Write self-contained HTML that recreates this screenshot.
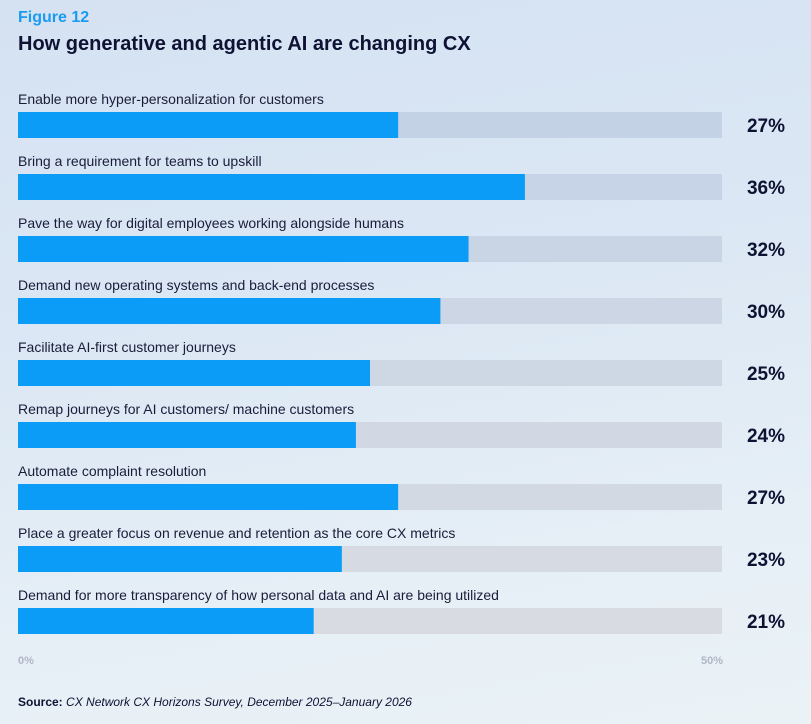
<!DOCTYPE html>
<html><head><meta charset="utf-8"><style>
html,body{margin:0;padding:0}
body{width:811px;height:724px;overflow:hidden;position:relative;font-family:"Liberation Sans",sans-serif;background:linear-gradient(170deg,#d5e2f2 0%,#dbe7f4 40%,#e6eff6 75%,#eaf2f6 100%);}
.t{position:absolute;white-space:nowrap}
</style></head><body>
<div class="t" style="left:18px;top:9px;font-size:16px;font-weight:bold;color:#1a9bf0">Figure 12</div>
<div class="t" style="left:18px;top:33px;font-size:20px;font-weight:bold;color:#0e1233">How generative and agentic AI are changing CX</div>
<svg id="chart" width="811" height="724" style="position:absolute;left:0;top:0"></svg>
<div class="t" style="left:18px;top:695px;font-size:12px;color:#0e1233"><b>Source:</b> <i>CX Network CX Horizons Survey, December 2025–January 2026</i></div>
<script>
const categories=["Enable more hyper-personalization for customers","Bring a requirement for teams to upskill","Pave the way for digital employees working alongside humans","Demand new operating systems and back-end processes","Facilitate AI-first customer journeys","Remap journeys for AI customers/ machine customers","Automate complaint resolution","Place a greater focus on revenue and retention as the core CX metrics","Demand for more transparency of how personal data and AI are being utilized"];
const values=[27,36,32,30,25,24,27,23,21];
const axisMax=50;
const tickLabels=["0%","50%"];
const svg=document.getElementById('chart');
const NS='http://www.w3.org/2000/svg';
const x0=18,x1=722,barTop=112,step=62,barH=26;
const xs=v=>x0+(v/axisMax)*(x1-x0);
function mk(t,a){const e=document.createElementNS(NS,t);for(const k in a)e.setAttribute(k,a[k]);svg.appendChild(e);return e;}
categories.forEach((c,i)=>{
 const y=barTop+i*step;
 const lab=mk('text',{x:x0,y:y-8,'font-size':14,fill:'#1a1d3a','font-family':'Liberation Sans, sans-serif'});
 lab.textContent=c;
 
 
 const g=Math.round(196+i*2.5);
 const tr=mk('rect',{x:x0,y:y,width:x1-x0,height:barH,fill:`rgb(${g},${Math.round(210+i*1.2)},${Math.round(230-i*0.5)})`});
 
 
 const b=mk('rect',{x:x0,y:y,width:xs(values[i])-x0,height:barH,fill:'#0a9cf6'});
 
 
 const v=mk('text',{x:766,y:y+barH/2+7,'font-size':19,'font-weight':'bold',fill:'#0e1233','text-anchor':'middle','font-family':'Liberation Sans, sans-serif'});
 v.textContent=values[i]+'%';
 
 
});
[0,axisMax].forEach((t,i)=>{
 const e=mk('text',{x:i?xs(t)-10:xs(t)+8,y:664,'font-size':11,'font-weight':'bold',fill:'#b0b6c6','text-anchor':'middle','font-family':'Liberation Sans, sans-serif'});
 e.textContent=tickLabels[i];
 
 
});
</script>
</body></html>
